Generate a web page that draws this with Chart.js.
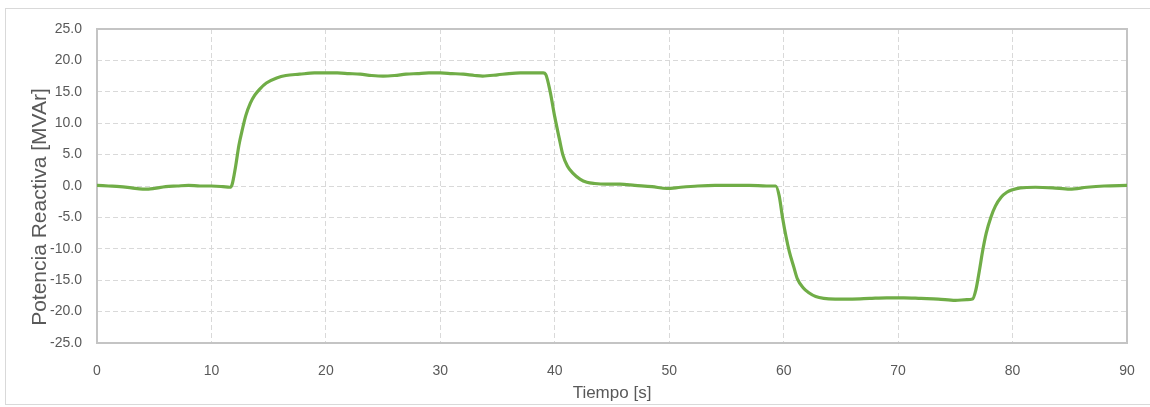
<!DOCTYPE html>
<html>
<head>
<meta charset="utf-8">
<script src="https://cdn.jsdelivr.net/npm/chart.js@4/dist/chart.umd.min.js"></script>
<style>
  html, body { margin: 0; padding: 0; background: #ffffff; overflow: hidden; }
  canvas { display: block; }
</style>
</head>
<body>
<canvas id="chart" width="1150" height="407"></canvas>
<script>
// Tiempo [s]
const timeS = [
  0, 1, 2, 3, 4, 4.5, 5, 6, 7, 8, 9, 10, 11, 11.6, 11.8,
  12.1, 12.4, 12.7, 13.0, 13.4, 13.8, 14.2, 14.8, 15.7, 16.5, 17.7, 19,
  20, 21, 22, 23, 24, 25, 26, 27, 28, 29, 30, 31, 32, 33, 33.7, 35, 36, 37, 38, 39,
  39.2, 39.6, 40.0, 40.4, 40.7, 41.1, 41.6, 42.2, 42.8, 43.5, 44.5, 45.7, 47, 48.5,
  49.8, 51, 52.5, 54, 55.5, 57, 58.5, 59.3,
  59.6, 59.9, 60.2, 60.5, 60.9, 61.2, 61.7, 62.2, 62.8, 63.5, 64.5, 66, 67.5, 69,
  70.5, 72, 73.5, 75, 76, 76.5,
  76.8, 77.1, 77.4, 77.7, 78.1, 78.5, 79, 79.5, 80, 80.7, 82, 83.5, 85, 86.5, 88, 90
];

// Potencia Reactiva [MVAr]
const reactiveMVAr = [
  0.1, 0.0, -0.1, -0.3, -0.5, -0.5, -0.4, -0.1, 0.0, 0.1, 0.0, 0.0, -0.1, -0.2, 0.2,
  3.0, 6.5, 9.0, 11.2, 13.2, 14.5, 15.4, 16.4, 17.2, 17.6, 17.8, 18.0,
  18.0, 18.0, 17.9, 17.8, 17.6, 17.5, 17.6, 17.8, 17.9, 18.0, 18.0, 17.9, 17.8, 17.6, 17.5, 17.7, 17.9, 18.0, 18.0, 18.0,
  17.8, 15.0, 11.0, 7.5, 5.0, 3.2, 2.0, 1.1, 0.6, 0.4, 0.3, 0.3, 0.1, -0.1,
  -0.4, -0.2, 0.0, 0.1, 0.1, 0.1, 0.0, 0.0,
  -1.5, -5.0, -8.0, -10.5, -13.0, -14.8, -16.2, -17.0, -17.6, -17.9, -18.0, -18.0, -17.9, -17.8,
  -17.8, -17.9, -18.0, -18.2, -18.1, -18.0,
  -16.5, -13.5, -10.2, -7.5, -5.0, -3.2, -1.8, -1.0, -0.6, -0.3, -0.2, -0.3, -0.5, -0.2, 0.0, 0.1
];

const xTicks = [0, 10, 20, 30, 40, 50, 60, 70, 80, 90];
const yTicks = [-25, -20, -15, -10, -5, 0, 5, 10, 15, 20, 25];
const yTitle = 'Potencia Reactiva [MVAr]';

const LINE_GREEN = '#70AD47';
const TEXT_GREY = '#595959';
const GRID_GREY = '#d9d9d9';
const FONT = "'Liberation Sans', Arial, sans-serif";

// outer frame of the figure, box round the plot area, y title
const frames = {
  id: 'frames',
  beforeDraw(chart) {
    const ctx = chart.ctx;
    ctx.save();
    ctx.strokeStyle = '#d9d9d9';
    ctx.lineWidth = 1;
    ctx.strokeRect(5.5, 8.5, 1160, 396);
    ctx.restore();
  },
  beforeDatasetsDraw(chart) {
    const { ctx, chartArea: a } = chart;
    ctx.save();
    ctx.strokeStyle = '#c4c4c4';
    ctx.lineWidth = 2;
    ctx.strokeRect(a.left, a.top, a.right - a.left, a.bottom - a.top);
    ctx.restore();
  },
  afterDraw(chart) {
    const ctx = chart.ctx;
    ctx.save();
    ctx.translate(40, 207);
    ctx.rotate(-Math.PI / 2);
    ctx.fillStyle = TEXT_GREY;
    ctx.font = "21px " + FONT;
    ctx.textAlign = 'center';
    ctx.textBaseline = 'middle';
    ctx.fillText(yTitle, 0, 0);
    ctx.restore();
  },
};

new Chart(document.getElementById('chart'), {
  type: 'line',
  data: {
    datasets: [{
      label: 'Potencia Reactiva',
      data: timeS.map((t, i) => ({ x: t, y: reactiveMVAr[i] })),
      borderColor: LINE_GREEN,
      backgroundColor: LINE_GREEN,
      borderWidth: 3.2,
      pointRadius: 0,
      fill: false,
      cubicInterpolationMode: 'monotone',
    }],
  },
  plugins: [frames],
  options: {
    responsive: false,
    animation: false,
    devicePixelRatio: 1,
    layout: { padding: { top: 29, right: 0, left: 0, bottom: 0 } },
    plugins: {
      legend: { display: false },
      tooltip: { enabled: false },
    },
    scales: {
      x: {
        type: 'linear',
        min: 0,
        max: 90,
        afterBuildTicks: s => { s.ticks = xTicks.map(v => ({ value: v })); },
        afterFit: s => { s.height = 64; s.paddingRight = 23; },
        ticks: {
          color: TEXT_GREY,
          font: { family: FONT, size: 14 },
          padding: 20,
          maxRotation: 0,
          callback: v => String(v),
        },
        grid: { color: GRID_GREY, drawTicks: false, lineWidth: 1 },
        border: { display: false, dash: [5, 3] },
        title: {
          display: true,
          text: 'Tiempo [s]',
          color: TEXT_GREY,
          font: { family: FONT, size: 17 },
          padding: { top: 0, bottom: 3 },
        },
      },
      y: {
        type: 'linear',
        min: -25,
        max: 25,
        afterBuildTicks: s => { s.ticks = yTicks.map(v => ({ value: v })); },
        afterFit: s => { s.width = 97; },
        ticks: {
          color: TEXT_GREY,
          font: { family: FONT, size: 14 },
          padding: 15,
          callback: v => v.toFixed(1),
        },
        grid: { color: GRID_GREY, drawTicks: false, lineWidth: 1 },
        border: { display: false, dash: [5, 3] },
      },
    },
  },
});
</script>
</body>
</html>
